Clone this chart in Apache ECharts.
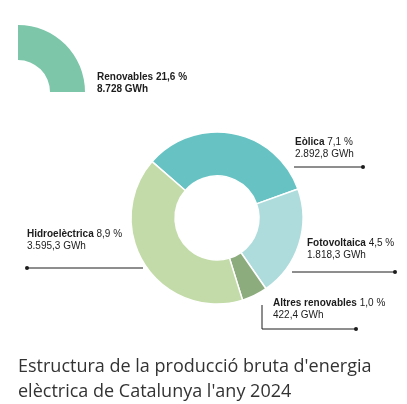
<!DOCTYPE html>
<html><head><meta charset="utf-8">
<script src="https://cdn.jsdelivr.net/npm/echarts@6/dist/echarts.min.js"></script>
<style>html,body{margin:0;padding:0;background:#fff}#c{width:407px;height:404px}</style>
</head><body><div id="c"></div>
<script>
// ---- data ----
const names = ['Eòlica', 'Fotovoltaica', 'Altres renovables', 'Hidroelèctrica'];
const pctTotal = ['7,1', '4,5', '1,0', '8,9'];
const gwh = [2892.8, 1818.3, 422.4, 3595.3];
const gwhLabels = ['2.892,8', '1.818,3', '422,4', '3.595,3'];
const totalName = 'Renovables';
const totalPct = 21.6;
const totalPctLabel = '21,6';
const totalGwhLabel = '8.728';
const titleLines = ["Estructura de la producció bruta d'energia", "elèctrica de Catalunya l'any 2024"];

// ---- styling / layout ----
const colors = ['#67c3c3', '#aedcdc', '#8dac7d', '#c3dba8'];
const totalColor = '#7dc6aa';
const ink = '#1c1c1c';
const labelLayoutCfg = [
  { x: 295, y: 136, line: [[294, 167], [330, 167], [363, 167]] },
  { x: 307, y: 237, line: [[292, 272], [340, 272], [395, 272]] },
  { x: 273, y: 297, line: [[262, 305], [262, 329], [356, 329]] },
  { x: 27,  y: 228, line: [[143, 268], [80, 268], [27, 268]] }
];
const totalLabelPos = { x: 97, y: 71 };

const font = "'Liberation Sans', Arial, sans-serif";
const rich = {
  b: { fontFamily: font, fontSize: 10, fontWeight: 'bold', color: ink, lineHeight: 12 },
  n: { fontFamily: font, fontSize: 10, fontWeight: 'normal', color: ink, lineHeight: 12 }
};

const chart = echarts.init(document.getElementById('c'));
const pieData = names.map((n, i) => ({
  name: n, value: gwh[i], itemStyle: { color: colors[i] }
}));

chart.setOption({
  animation: false,
  title: {
    text: titleLines.join('\n'),
    left: 18, top: 354, padding: 0,
    textStyle: { fontFamily: "'Open Sans', sans-serif", fontSize: 18, fontWeight: 'normal', color: '#333', lineHeight: 25 }
  },
  series: [
    {
      type: 'pie',
      center: [217, 218],
      radius: [42, 86],
      startAngle: 139,
      clockwise: true,
      itemStyle: { borderColor: '#fff', borderWidth: 1.5 },
      data: pieData,
      label: {
        show: true, position: 'outside', rich: rich, overflow: 'none', width: 200,
        formatter: p => '{b|' + p.name + '}{n| ' + pctTotal[p.dataIndex] + ' %}\n{n|' + gwhLabels[p.dataIndex] + ' GWh}'
      },
      labelLine: { show: true, smooth: false, lineStyle: { color: ink, width: 1 } },
      labelLayout: p => {
        const c = labelLayoutCfg[p.dataIndex];
        return { x: c.x, y: c.y, align: 'left', verticalAlign: 'top', labelLinePoints: c.line, width: 200 };
      },
      emphasis: { disabled: true }
    },
    {
      type: 'pie',
      center: [18, 92],
      radius: [32, 67],
      startAngle: 90,
      endAngle: 0,
      clockwise: true,
      data: [{ name: totalName, value: totalPct, itemStyle: { color: totalColor } }],
      label: {
        show: true, position: 'outside', rich: rich, overflow: 'none', width: 200,
        formatter: () => '{b|' + totalName + ' ' + totalPctLabel + ' %}\n{b|' + totalGwhLabel + ' GWh}'
      },
      labelLine: { show: false },
      labelLayout: () => ({ x: totalLabelPos.x, y: totalLabelPos.y, align: 'left', verticalAlign: 'top' }),
      emphasis: { disabled: true }
    }
  ],
  graphic: labelLayoutCfg.map(c => {
    const end = c.line[c.line.length - 1];
    return { type: 'circle', shape: { cx: end[0], cy: end[1], r: 2 }, style: { fill: ink }, silent: true };
  })
});
</script></body></html>
